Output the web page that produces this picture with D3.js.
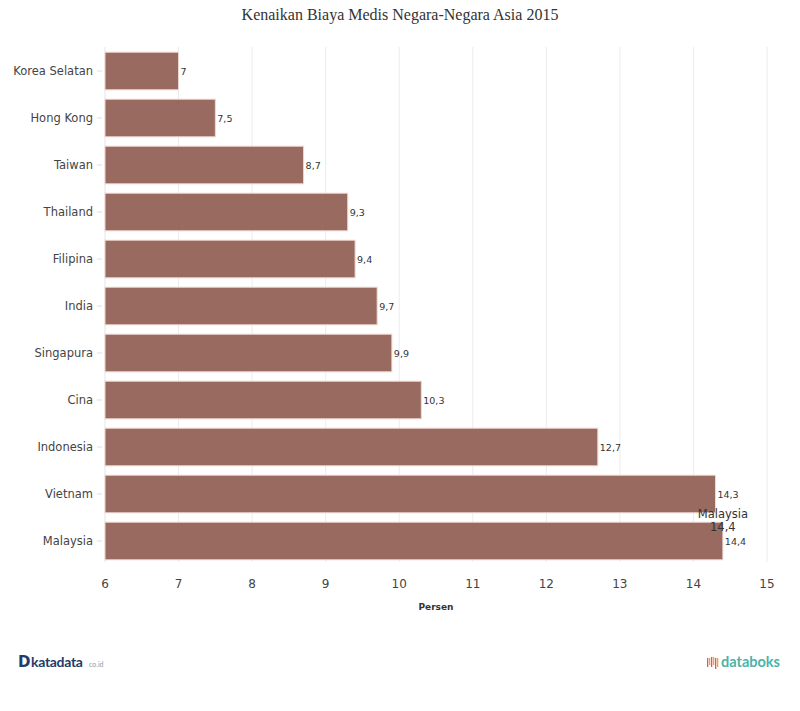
<!DOCTYPE html>
<html><head><meta charset="utf-8">
<script src="https://cdn.jsdelivr.net/npm/d3@7"></script>
<style>body{margin:0;background:#fff}svg{display:block}</style>
</head><body><svg id="c" width="800" height="711"></svg>
<script>
const categories = ["Korea Selatan","Hong Kong","Taiwan","Thailand","Filipina","India","Singapura","Cina","Indonesia","Vietnam","Malaysia"];
const values = [7,7.5,8.7,9.3,9.4,9.7,9.9,10.3,12.7,14.3,14.4];
const xTicks = [6,7,8,9,10,11,12,13,14,15];
const title = "Kenaikan Biaya Medis Negara-Negara Asia 2015";
const xTitle = "Persen";
const fmt = v => String(v).replace(".", ",");

const svg = d3.select("#c");
const x = d3.scaleLinear().domain([6,15]).range([105,767]);
const y = d3.scaleBand().domain(categories).range([47.5,564.5]).paddingInner(0.2).paddingOuter(0.1);

svg.append("text").attr("x",400).attr("y",20).attr("text-anchor","middle")
  .attr("font-family","Liberation Serif, Times New Roman, serif").attr("font-size",16).attr("fill","#333").text(title);

// grid
svg.append("g").selectAll("line").data(xTicks).join("line")
  .attr("x1",d=>x(d)).attr("x2",d=>x(d)).attr("y1",47).attr("y2",562)
  .attr("stroke",d=>d===6?"#e6e6e6":"#ececec").attr("stroke-width",1);

// bars
svg.append("g").selectAll("rect").data(values).join("rect")
  .attr("x",x(6)).attr("y",(d,i)=>y(categories[i]))
  .attr("width",d=>x(d)-x(6)).attr("height",y.bandwidth())
  .attr("fill","#8e5a4e").attr("fill-opacity",0.9)
  .attr("stroke","#f0d8d2").attr("stroke-width",1);

// value labels
svg.append("g").selectAll("text").data(values).join("text")
  .attr("x",d=>x(d)+2).attr("y",(d,i)=>y(categories[i])+y.bandwidth()/2+4)
  .attr("font-family","DejaVu Sans, Verdana, sans-serif").attr("font-size",9.5).attr("fill","#333")
  .text(d=>fmt(d));

// y axis labels & ticks
const ya = svg.append("g");
ya.selectAll("text").data(categories).join("text")
  .attr("x",93).attr("y",d=>y(d)+y.bandwidth()/2+4).attr("text-anchor","end")
  .attr("font-family","DejaVu Sans, Verdana, sans-serif").attr("font-size",11.5).attr("fill","#444").text(d=>d);
ya.selectAll("line").data(categories).join("line")
  .attr("x1",97).attr("x2",102).attr("y1",d=>y(d)+y.bandwidth()/2).attr("y2",d=>y(d)+y.bandwidth()/2)
  .attr("stroke","#ddd");

// x axis labels
svg.append("g").selectAll("text").data(xTicks).join("text")
  .attr("x",d=>x(d)).attr("y",588).attr("text-anchor","middle")
  .attr("font-family","DejaVu Sans, Verdana, sans-serif").attr("font-size",12).attr("fill","#444").text(d=>d);
svg.append("text").attr("x",436).attr("y",610).attr("text-anchor","middle")
  .attr("font-family","DejaVu Sans, Verdana, sans-serif").attr("font-size",9).attr("font-weight","bold").attr("fill","#333").text(xTitle);

// hover label for last
const li = categories.length-1;
const hl = svg.append("g").attr("font-family","DejaVu Sans, Verdana, sans-serif").attr("font-size",11.5).attr("fill","#333").attr("text-anchor","middle");
hl.append("text").attr("x",x(values[li])).attr("y",y(categories[li])-4).text(categories[li]);
hl.append("text").attr("x",x(values[li])).attr("y",y(categories[li])+9).text(fmt(values[li]));

// footer logos
const f = svg.append("g");
f.append("text").attr("x",18).attr("y",667).attr("font-family","DejaVu Sans, sans-serif").attr("font-weight","bold").attr("font-size",15).attr("fill","#233a6b").text("D");
f.append("text").attr("x",31).attr("y",667).attr("font-family","Lato, sans-serif").attr("font-weight","bold").attr("font-size",14).attr("fill","#233a6b").attr("letter-spacing",-0.3).text("katadata");
f.append("text").attr("x",89).attr("y",667).attr("font-family","Lato, sans-serif").attr("font-size",7).attr("fill","#8a9ab5").text("co.id");
const bars = [[0,3],[1,1],[2,4],[3,2],[4,5],[5,3]];
f.append("g").selectAll("rect").data(bars).join("rect")
  .attr("x",d=>707+d[0]*2).attr("y",d=>657+ (d[1]%2)).attr("width",1.3).attr("height",d=>6+d[1])
  .attr("fill",(d,i)=>i%2?"#f0a14b":"#e05a4e");
f.append("text").attr("x",721).attr("y",667).attr("font-family","Lato, sans-serif").attr("font-weight","bold").attr("font-size",14.5).attr("fill","#4bb3a8").text("databoks");
</script></body></html>
